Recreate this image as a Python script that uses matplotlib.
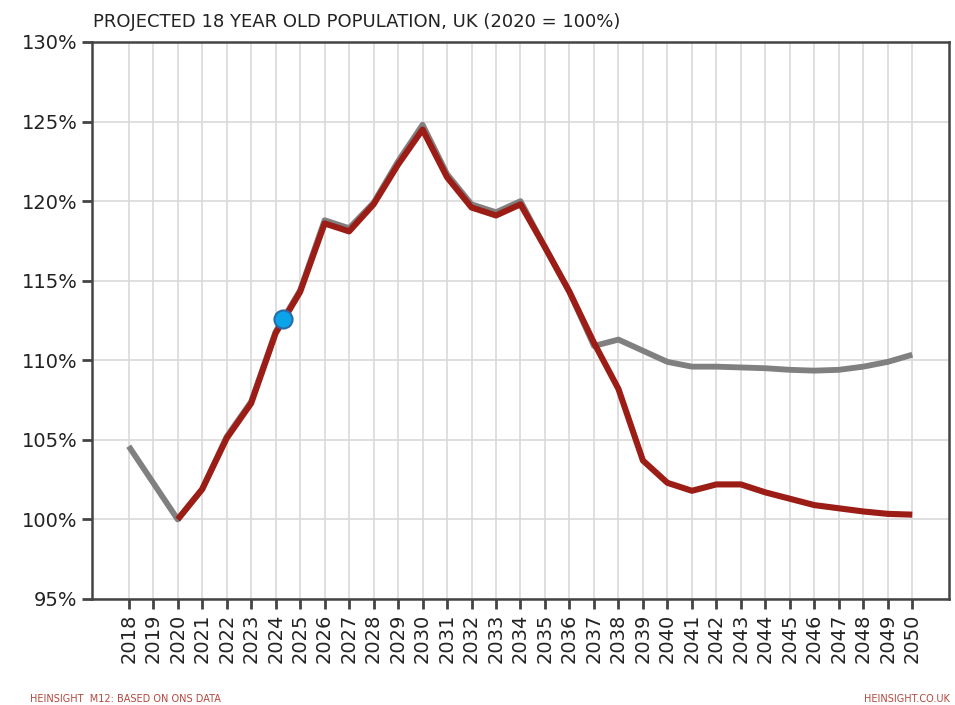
import numpy as np
import matplotlib
matplotlib.use("Agg")
import matplotlib.pyplot as plt
import matplotlib.ticker as mticker

# ---------------------------------------------------------------------------
# Data (% of 2020 level)
# ---------------------------------------------------------------------------
years = list(range(2018, 2051))

# grey: earlier projection (starts 2018)
grey_vals = [104.6, 102.3, 100.0, 101.9, 105.2, 107.4, 111.8, 114.4, 118.8, 118.3,
             119.9, 122.5, 124.8, 121.7, 119.8, 119.3, 120.0, 117.1, 114.3, 110.9,
             111.3, 110.6, 109.9, 109.6, 109.6, 109.55, 109.5, 109.4, 109.35, 109.4,
             109.6, 109.9, 110.35]

# red: latest projection (starts 2020)
red_years = years[2:]
red_vals = [100.0, 101.9, 105.1, 107.3, 111.7, 114.3, 118.6, 118.1,
            119.8, 122.3, 124.5, 121.5, 119.6, 119.1, 119.8, 117.1, 114.3, 111.1,
            108.2, 103.7, 102.3, 101.8, 102.2, 102.2, 101.7, 101.3, 100.9, 100.7,
            100.5, 100.35, 100.3]

marker_year = 2024.3
marker_val = 112.6

title = "PROJECTED 18 YEAR OLD POPULATION, UK (2020 = 100%)"
footer_left = "HEINSIGHT  M12: BASED ON ONS DATA"
footer_right = "HEINSIGHT.CO.UK"

# ---------------------------------------------------------------------------
# Figure
# ---------------------------------------------------------------------------
AX_COL = "#444444"
RED = "#9c1c16"
GREY = "#808080"

fig = plt.figure(figsize=(9.55, 7.05), dpi=100)
ax = fig.add_axes([92 / 955, 1 - 599 / 705, (949 - 92) / 955, (599 - 42) / 705])

ax.plot(years, grey_vals, color=GREY, lw=4.2, solid_capstyle="butt", zorder=3)
ax.plot(red_years, red_vals, color=RED, lw=4.4, solid_capstyle="butt", zorder=4)
ax.plot([marker_year], [marker_val], "o", ms=13, mfc="#0aa5e8",
        mec="#2a6aa8", mew=1.5, zorder=5)

ax.set_xlim(2016.5, 2051.5)
ax.set_ylim(95, 130)
ax.set_xticks(years)
ax.set_xticklabels([str(y) for y in years], rotation=90)
ax.set_yticks(np.arange(95, 131, 5))
ax.yaxis.set_major_formatter(mticker.FuncFormatter(lambda v, _: f"{v:.0f}%"))

ax.grid(True, color="#d9d9d9", lw=1.2)
ax.set_axisbelow(True)
for sp in ax.spines.values():
    sp.set_color(AX_COL)
    sp.set_linewidth(1.8)
ax.tick_params(axis="both", colors=AX_COL, labelcolor="#222222",
               labelsize=14, width=2, length=7)

fig.text(93 / 955, 1 - 27 / 705, title, fontsize=13, color="#222222",
         ha="left", va="baseline")
fig.text(30 / 955, 1 - 702 / 705, footer_left, fontsize=7, color="#b5473d",
         ha="left", va="baseline")
fig.text(950 / 955, 1 - 702 / 705, footer_right, fontsize=7, color="#b5473d",
         ha="right", va="baseline")

fig.savefig("out.png", dpi=100, facecolor="white")
